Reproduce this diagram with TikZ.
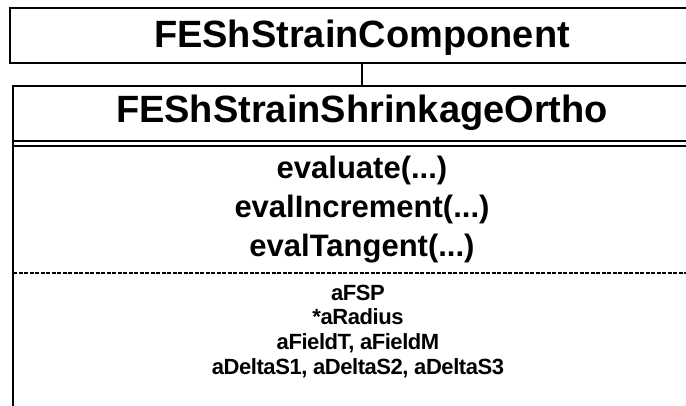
\documentclass[tikz,border=0pt]{standalone}
\usepackage{fontspec}
\setmainfont{Liberation Sans}
\newfontfamily\attrfont[LetterSpace=-2]{Liberation Sans}
\begin{document}
\begin{tikzpicture}[x=1pt,y=-1pt,
  boxline/.style={draw=black,line width=2pt},
  ttl/.style={anchor=base,inner sep=0pt,font=\bfseries\fontsize{38}{38}\selectfont},
  meth/.style={anchor=base,inner sep=0pt,font=\bfseries\fontsize{31}{31}\selectfont},
  attr/.style={anchor=base,inner sep=0pt,font=\attrfont\bfseries\fontsize{22}{22}\selectfont}]
\useasboundingbox (0,0) rectangle (686,405);
\clip (0,0) rectangle (686,405);
% boxes
\node[boxline,rectangle,minimum width=710pt,minimum height=55pt,inner sep=0pt] (top) at (365,35.5) {};
\node[boxline,rectangle,minimum width=707pt,minimum height=334pt,inner sep=0pt] (cls) at (366.5,253) {};
% texts
\node[ttl] (t1) at (362,47) {FEShStrainComponent};
\node[ttl] (t2) at (362,122) {FEShStrainShrinkageOrtho};
\node[meth] (m1) at (362,178) {evaluate(...)};
\node[meth] (m2) at (362,217) {evalIncrement(...)};
\node[meth] (m3) at (362,256) {evalTangent(...)};
\node[attr] (a1) at (358,300) {aFSP};
\node[attr] (a2) at (358,324) {*aRadius};
\node[attr] (a3) at (358,349) {aFieldT, aFieldM};
\node[attr] (a4) at (358,374) {aDeltaS1, aDeltaS2, aDeltaS3};
% connector
\draw[line width=1.5pt] (top.south -| t1) -- (cls.north -| t1);
% separators
\coordinate (s1) at (13,140.5);
\coordinate (s2) at (13,145.5);
\coordinate (s3) at (13,273);
\draw[line width=2pt] (s1) -- (s1 -| cls.east);
\draw[line width=2pt] (s2) -- (s2 -| cls.east);
\draw[line width=1.3pt,dash pattern=on 4pt off 1.5pt] (s3) -- (s3 -| cls.east);
\end{tikzpicture}
\end{document}
